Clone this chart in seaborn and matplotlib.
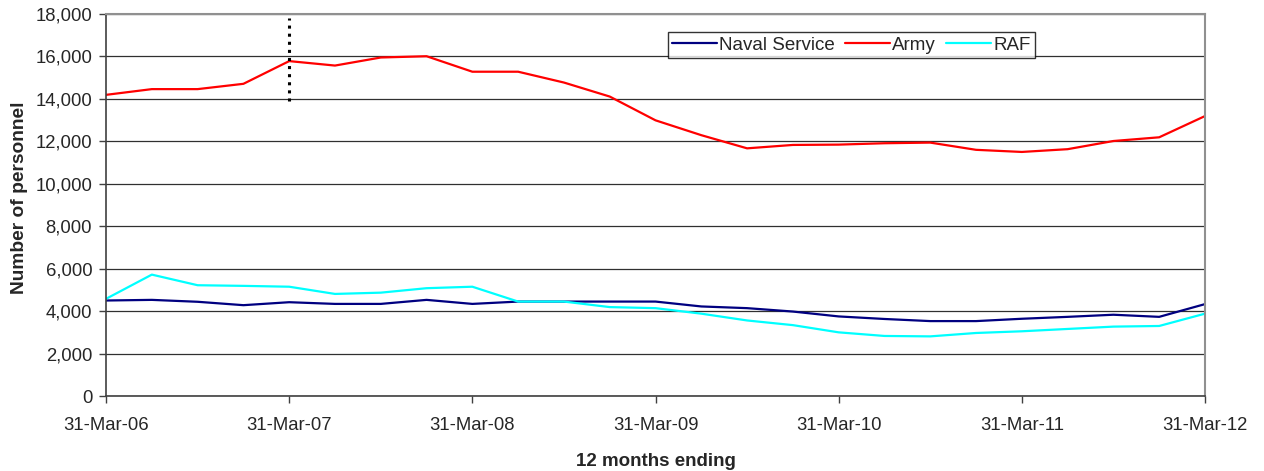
import pandas as pd
import matplotlib
matplotlib.use('Agg')
import matplotlib.pyplot as plt
import seaborn as sns

# Quarterly values, 12 months ending 31-Mar-06 .. 31-Mar-12
quarters = list(range(25))
year_labels = ['31-Mar-06', '31-Mar-07', '31-Mar-08', '31-Mar-09',
               '31-Mar-10', '31-Mar-11', '31-Mar-12']

naval = [4500, 4530, 4440, 4280, 4420, 4340, 4340, 4530, 4340, 4450,
         4450, 4450, 4450, 4220, 4140, 3980, 3750, 3630, 3530, 3530,
         3640, 3730, 3830, 3730, 4330]
army = [14190, 14460, 14460, 14710, 15780, 15570, 15950, 16010, 15280, 15280,
        14770, 14110, 12990, 12290, 11670, 11830, 11845, 11910, 11940, 11600,
        11500, 11630, 12015, 12190, 13190]
raf = [4580, 5720, 5220, 5190, 5150, 4810, 4870, 5080, 5150, 4450,
       4450, 4190, 4140, 3880, 3560, 3340, 3000, 2830, 2810, 2970,
       3050, 3160, 3270, 3300, 3880]

services = ['Naval Service', 'Army', 'RAF']
colors = ['#000080', '#FF0000', '#00FFFF']

df = pd.DataFrame({
    'quarter': quarters * 3,
    'personnel': naval + army + raf,
    'service': [s for s in services for _ in quarters],
})

sns.set_style('white')
plt.rcParams['font.family'] = ['Liberation Sans', 'DejaVu Sans']

fig = plt.figure(figsize=(12.64, 4.71), dpi=100)
ax = fig.add_axes([0.0839, 0.1592, 0.8694, 0.8111])

sns.lineplot(data=df, x='quarter', y='personnel', hue='service',
             hue_order=services, palette=dict(zip(services, colors)),
             linewidth=1.6, ax=ax)

# dotted marker line at 31-Mar-07
ax.plot([4, 4], [13900, 17800], color='black', linestyle=':', linewidth=2.2)

ax.set_xlim(0, 24)
ax.set_ylim(0, 18000)
ax.set_xticks(range(0, 25, 4))
ax.set_xticklabels(year_labels)
ax.set_yticks(range(0, 18001, 2000))
ax.yaxis.set_major_formatter(matplotlib.ticker.FuncFormatter(lambda v, p: f'{int(v):,}'))
ax.tick_params(axis='both', labelsize=13.3, length=5, width=1, color='#404040',
               direction='out', bottom=True, left=True, pad=5)
ax.tick_params(axis='x', pad=10)

ax.grid(axis='y', color='#303030', linewidth=0.9)
ax.set_axisbelow(True)
for side in ['left', 'bottom']:
    ax.spines[side].set_color('#404040')
    ax.spines[side].set_linewidth(1.2)
for side in ['top', 'right']:
    ax.spines[side].set_color('#909090')
    ax.spines[side].set_linewidth(1.5)

ax.set_xlabel('12 months ending', fontsize=13.5, fontweight='bold', labelpad=14)
ax.set_ylabel('Number of personnel', fontsize=13.8, fontweight='bold')
ax.yaxis.set_label_coords(-0.071, 0.52)

leg = ax.legend(loc='upper left', bbox_to_anchor=(0.511, 0.953), ncol=3,
                fontsize=13.5, frameon=True, fancybox=False, handlelength=2.4,
                handletextpad=0.1, columnspacing=0.55, borderpad=0.25,
                borderaxespad=0)
leg.get_frame().set_edgecolor('black')
leg.get_frame().set_linewidth(1)
for line in leg.get_lines():
    line.set_linewidth(1.6)

fig.savefig('out.png', dpi=100)
